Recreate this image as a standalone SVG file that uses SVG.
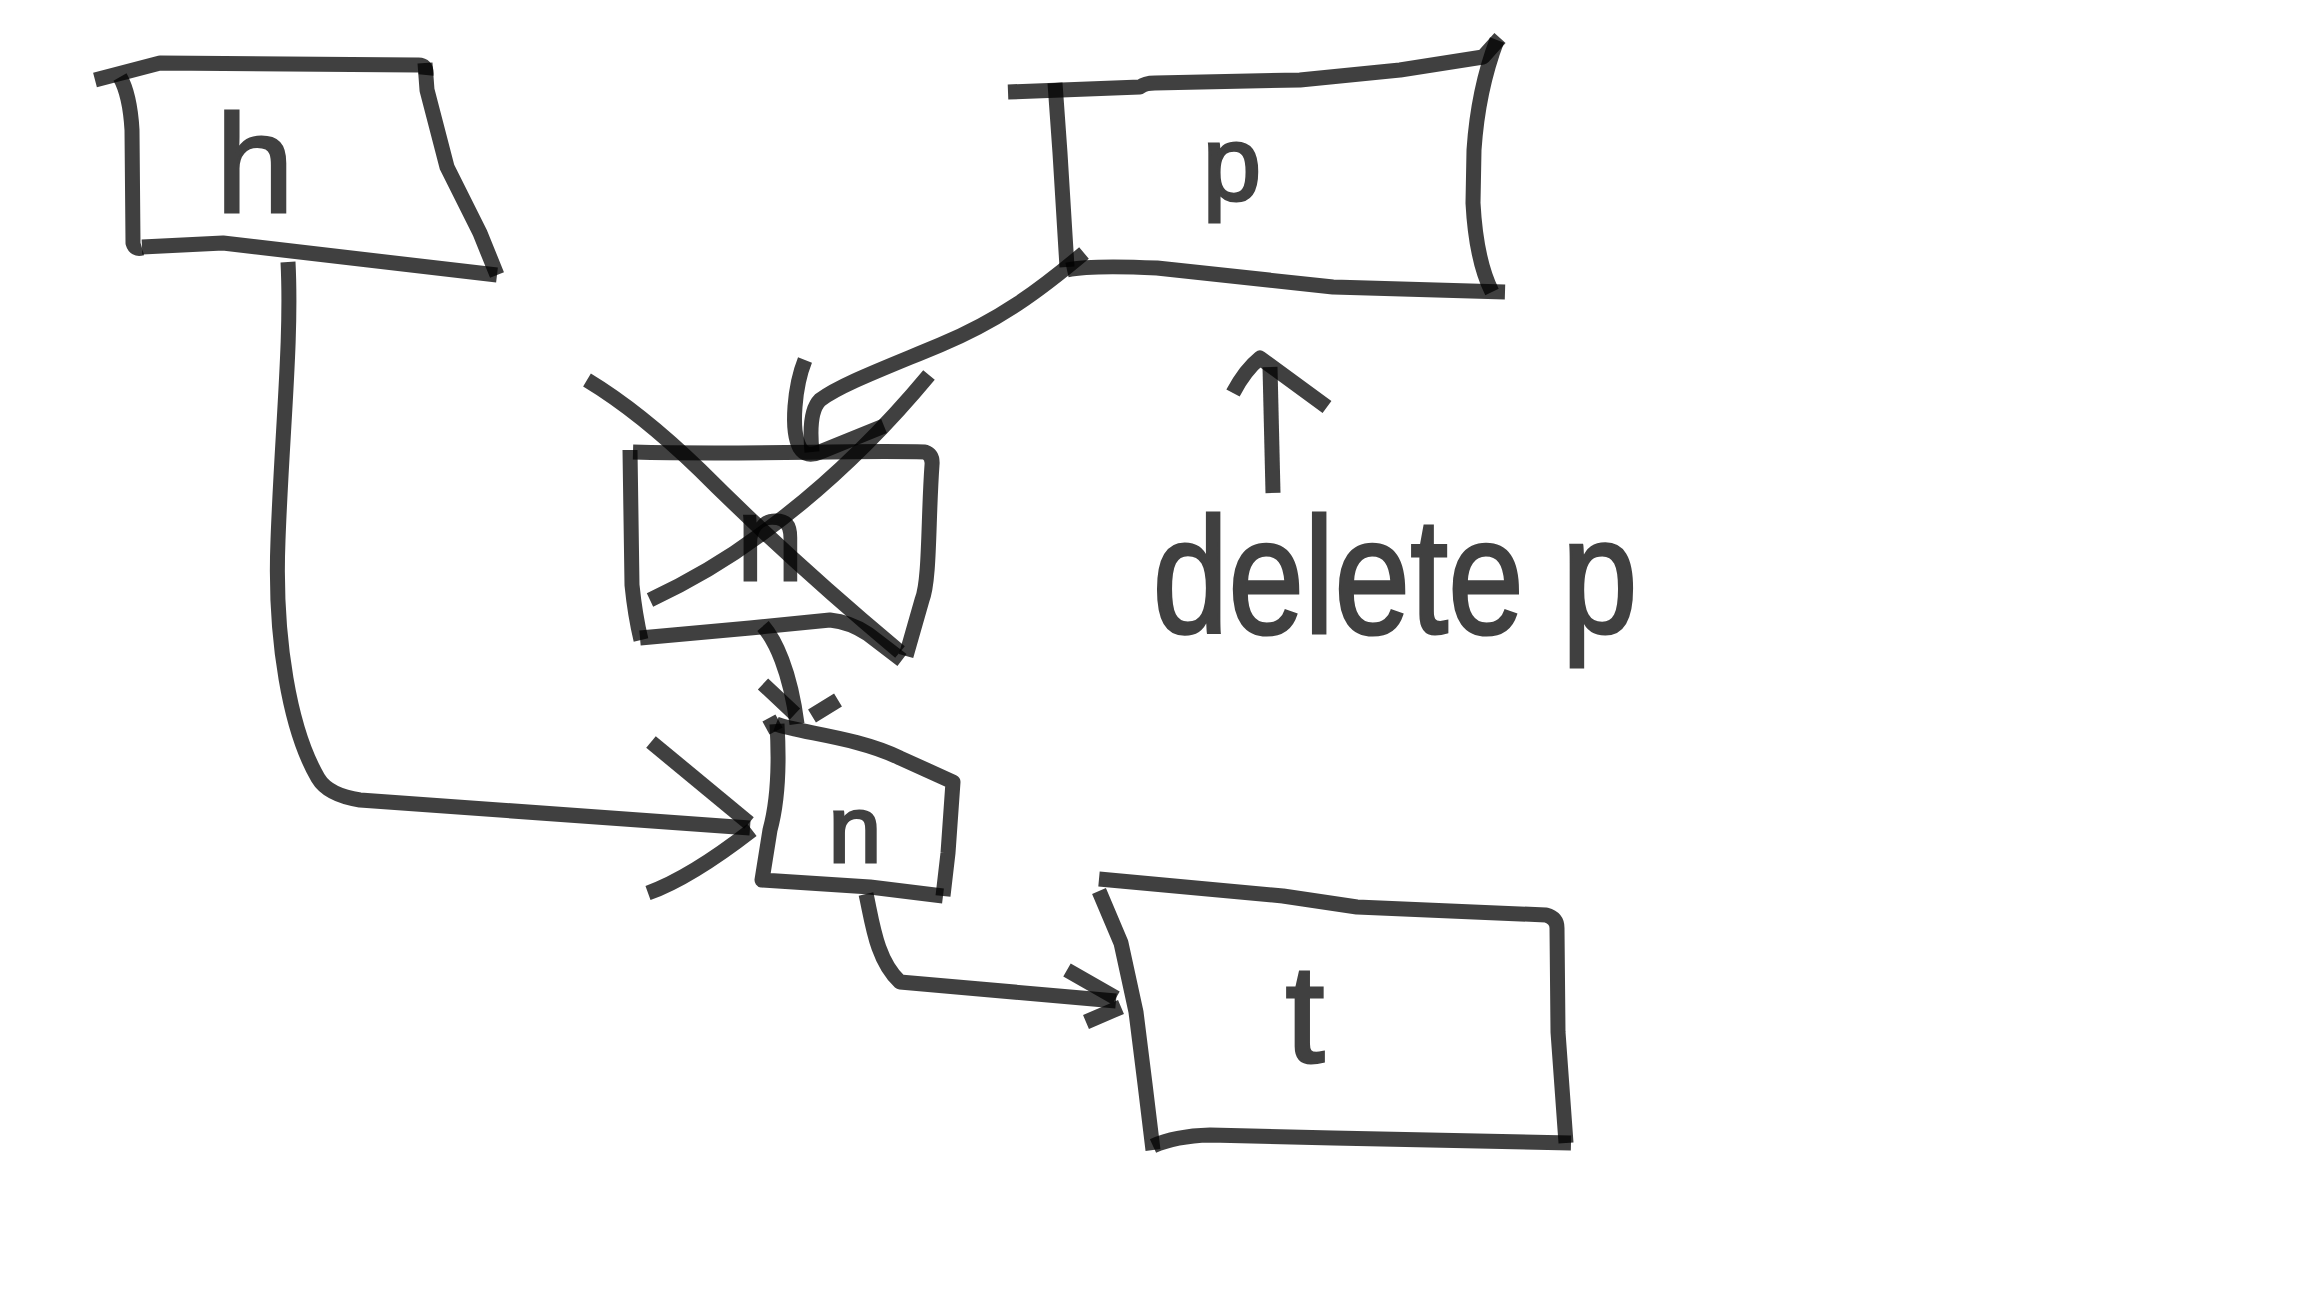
<svg xmlns="http://www.w3.org/2000/svg" width="2304" height="1296" viewBox="0 0 2304 1296">
<style>
.s{fill:none;stroke:#000;stroke-opacity:0.75;stroke-width:15;stroke-linecap:butt;stroke-linejoin:round}
.t{fill:#404040;stroke:#404040;stroke-width:3;font-family:"Liberation Sans","DejaVu Sans",sans-serif;text-anchor:middle}
</style>
<rect width="2304" height="1296" fill="#fff"/>
<g id="node-h">
<path class="s" d="M95,80 L160,63 L417,65 Q427,64 426,75"/>
<path class="s" d="M425,63 L427,90 L440,140 L447,167 L457,187 L480,233 L497,275"/>
<path class="s" d="M120,77 Q130,95 132,130 L133,243 Q135,250 142,248"/>
<path class="s" d="M142,247 L223,243 L497,275"/>
<text class="t" x="255" y="212" font-size="140">h</text>
</g>
<g id="node-p">
<path class="s" d="M1008,92 L1140,87 Q1145,83 1155,83 L1300,80 L1400,70 L1483,57 L1500,38"/>
<path class="s" d="M1497,40 Q1478,90 1474,150 L1473,203 Q1476,260 1492,292"/>
<path class="s" d="M1055,83 L1060,153 L1067,267"/>
<path class="s" d="M1067,270 Q1090,265 1157,268 L1333,287 L1505,292"/>
<text class="t" x="1232" y="200" font-size="105">p</text>
</g>
<g id="node-deleted">
<path class="s" d="M633,452 C750,455 850,450 925,452 Q933,455 932,465 C928,520 930,580 922,600 L906,656"/>
<path class="s" d="M630,450 L632,585 Q635,615 641,640"/>
<path class="s" d="M640,638 L750,628 L830,620 Q850,622 868,634 L902,660"/>
<text class="t" x="770" y="580" font-size="120">n</text>
<path class="s" d="M587,380 Q640,412 700,470 Q790,560 900,652"/>
<path class="s" d="M650,600 Q710,572 760,535 Q850,470 929,375"/>
</g>
<g id="node-n">
<path class="s" d="M766,728 L779,721"/>
<path class="s" d="M776,724 C800,733 857,737 900,758 L953,782 L948,853 L943,896"/>
<path class="s" d="M777,724 Q781,790 770,830 L762,880 L870,887 L943,896"/>
<text class="t" x="855" y="862" font-size="95">n</text>
</g>
<g id="node-t">
<path class="s" d="M1099,879 L1283,896 L1357,907 L1546,915 Q1557,918 1557,928 L1558,1032 L1566,1143"/>
<path class="s" d="M1099,891 L1121,943 L1136,1012 L1145,1084 L1153,1150"/>
<path class="s" d="M1153,1146 Q1175,1136 1210,1135 L1333,1138 L1571,1143"/>
<text class="t" x="1305" y="1062" font-size="140">t</text>
</g>
<g id="label-delete">
<text class="t" x="1395" y="633" font-size="165" textLength="485" lengthAdjust="spacingAndGlyphs">delete p</text>
<path class="s" d="M1270,367 L1273,493"/>
<path class="s" d="M1233,393 Q1245,370 1260,358 L1327,407"/>
</g>
<g id="connectors">
<path class="s" d="M1084,253 C1040,290 1000,320 940,345 C880,370 840,385 820,400 Q808,412 812,452"/>
<path class="s" d="M805,360 C795,385 790,430 800,448 Q806,458 820,452 L884,426"/>
<path class="s" d="M763,626 C775,640 790,670 797,724"/>
<path class="s" d="M763,684 L795,714 M812,716 L838,700"/>
<path class="s" d="M288,262 C292,340 282,430 278,540 C274,640 290,730 318,778 Q328,795 360,800 L750,828"/>
<path class="s" d="M651,742 L749,823"/>
<path class="s" d="M648,893 Q690,878 752,830"/>
<path class="s" d="M866,894 C872,920 876,960 900,982 L1116,1001"/>
<path class="s" d="M1067,970 L1116,998 M1086,1022 L1121,1007"/>
</g>
</svg>
